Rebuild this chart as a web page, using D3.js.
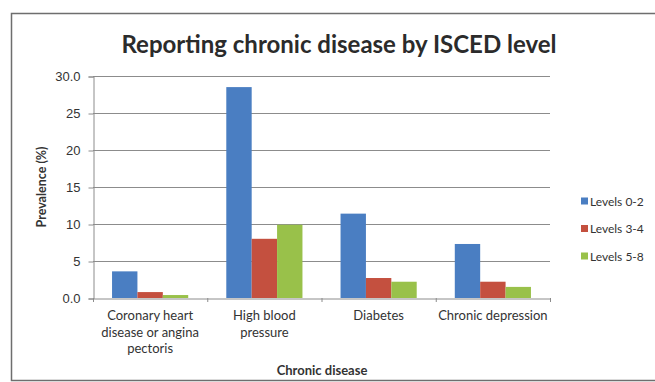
<!DOCTYPE html>
<html>
<head>
<meta charset="utf-8">
<script src="https://cdn.jsdelivr.net/npm/d3@7"></script>
<style>
  body { margin: 0; background: #fff; }
  svg { display: block; font-family: Lato, "DejaVu Sans", sans-serif; }
</style>
</head>
<body>
<svg id="chart"></svg>
<script>
// chart values
let categories = [
    ['Coronary heart', 'disease or angina', 'pectoris'],
    ['High blood', 'pressure'],
    ['Diabetes'],
    ['Chronic depression']
];
let seriesNames = ['Levels 0-2', 'Levels 3-4', 'Levels 5-8'];
let levels02 = [3.6, 28.5, 11.4, 7.3];
let levels34 = [0.8, 8.0, 2.7, 2.2];
let levels58 = [0.4, 9.9, 2.2, 1.5];
let yTicks = [0, 5, 10, 15, 20, 25, 30];
let yTickLabels = ['0.0', '5', '10', '15', '20', '25', '30.0'];

let colors = ['#4a7ec2', '#c4503f', '#99c14a'];

let width = 655;
let height = 382;
let plotLeft = 93, plotRight = 550, plotTop = 76, plotBottom = 298;

let svg = d3.select('#chart')
    .attr('width', width)
    .attr('height', height);

// outer frame
svg.append('rect')
    .attr('x', 11.5).attr('y', 13.5)
    .attr('width', 660).attr('height', 367)
    .attr('fill', 'none')
    .attr('stroke', '#6e6e6e')
    .attr('stroke-width', 1.5);

let xScale = d3.scaleBand()
    .domain(d3.range(categories.length))
    .range([plotLeft, plotRight]);

let subScale = d3.scaleBand()
    .domain(d3.range(seriesNames.length))
    .range([0, xScale.bandwidth()])
    .paddingOuter(0.75)
    .paddingInner(0);

let yScale = d3.scaleLinear()
    .domain([0, 30])
    .range([plotBottom, plotTop]);

// gridlines
svg.append('g')
    .selectAll('line')
    .data(yTicks.slice(1))
    .enter()
    .append('line')
    .attr('x1', plotLeft).attr('x2', plotRight)
    .attr('y1', (d) => yScale(d) + 0.5)
    .attr('y2', (d) => yScale(d) + 0.5)
    .attr('stroke', '#8c8c8c')
    .attr('stroke-width', 1);

// y axis
let yAxis = d3.axisLeft(yScale)
    .tickValues(yTicks)
    .tickSize(5)
    .tickPadding(8)
    .tickFormat((d, i) => yTickLabels[i]);

let yg = svg.append('g')
    .attr('id', 'y-axis')
    .attr('transform', 'translate(' + (plotLeft + 0.5) + ',0.5)')
    .call(yAxis);
yg.selectAll('path, line').attr('stroke', '#8c8c8c');
yg.selectAll('text').attr('font-size', 13).attr('fill', '#333');

// bars
let series = [levels02, levels34, levels58];
series.forEach((values, s) => {
    svg.append('g')
        .selectAll('rect')
        .data(values)
        .enter()
        .append('rect')
        .attr('x', (d, i) => xScale(i) + subScale(s))
        .attr('y', (d) => yScale(d))
        .attr('width', subScale.bandwidth())
        .attr('height', (d) => yScale(0) - yScale(d))
        .attr('fill', colors[s]);
});

// x axis
let xAxis = d3.axisBottom(xScale)
    .tickSize(0)
    .tickFormat('');
let xg = svg.append('g')
    .attr('id', 'x-axis')
    .attr('transform', 'translate(0,' + (plotBottom + 0.5) + ')')
    .call(xAxis);
xg.select('.domain').attr('stroke', '#8c8c8c');

// category boundary ticks
svg.append('g')
    .selectAll('line')
    .data(d3.range(categories.length + 1))
    .enter()
    .append('line')
    .attr('x1', (d) => plotLeft + d * xScale.step() + 0.5)
    .attr('x2', (d) => plotLeft + d * xScale.step() + 0.5)
    .attr('y1', plotBottom).attr('y2', plotBottom + 4)
    .attr('stroke', '#8c8c8c');

// category labels
let catLabels = svg.append('g')
    .selectAll('text')
    .data(categories)
    .enter()
    .append('text')
    .attr('x', (d, i) => xScale(i) + xScale.bandwidth() / 2)
    .attr('y', 320)
    .attr('text-anchor', 'middle')
    .attr('font-size', 13)
    .attr('fill', '#333');
catLabels.selectAll('tspan')
    .data((d) => d)
    .enter()
    .append('tspan')
    .attr('x', function () { return this.parentNode.getAttribute('x'); })
    .attr('dy', (d, i) => i == 0 ? 0 : 16.5)
    .text((d) => d);

// titles
svg.append('text')
    .attr('x', 339)
    .attr('y', 53)
    .attr('text-anchor', 'middle')
    .attr('font-size', 24)
    .attr('font-weight', 'bold')
    .attr('fill', '#2b2b2b')
    .text('Reporting chronic disease by ISCED level');

svg.append('text')
    .attr('x', 322)
    .attr('y', 375)
    .attr('text-anchor', 'middle')
    .attr('font-size', 13)
    .attr('font-weight', 'bold')
    .attr('fill', '#333')
    .text('Chronic disease');

svg.append('text')
    .attr('transform', 'translate(46,187) rotate(-90)')
    .attr('text-anchor', 'middle')
    .attr('font-size', 12.5)
    .attr('font-weight', 'bold')
    .attr('fill', '#333')
    .text('Prevalence (%)');

// legend
let legend = svg.append('g')
    .selectAll('g')
    .data(seriesNames)
    .enter()
    .append('g')
    .attr('transform', (d, i) => 'translate(581,' + (201 + i * 27.5) + ')');
legend.append('rect')
    .attr('x', 0).attr('y', -3.5)
    .attr('width', 7).attr('height', 7)
    .attr('fill', (d, i) => colors[i]);
legend.append('text')
    .attr('x', 9)
    .attr('y', 4.5)
    .attr('font-size', 12)
    .attr('fill', '#333')
    .text((d) => d);
</script>
</body>
</html>
